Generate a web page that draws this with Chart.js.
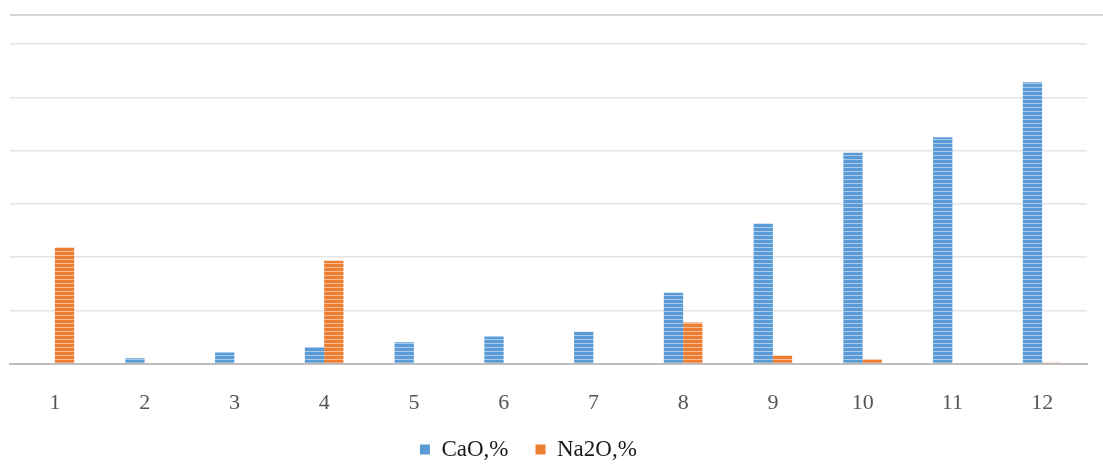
<!DOCTYPE html>
<html>
<head>
<meta charset="utf-8">
<script src="https://cdn.jsdelivr.net/npm/chart.js@4/dist/chart.umd.min.js"></script>
<style>
  html, body { margin:0; padding:0; background:#fff; }
  #wrap { position:relative; width:1103px; height:475px; }
  #topline { position:absolute; left:10px; right:0; top:14px; border-top:2px solid #d4d4d4; }
</style>
</head>
<body>
<div id="wrap">
  <div id="topline"></div>
  <canvas id="chart" width="1103" height="475"></canvas>
</div>
<script>
// === Data ===
const categories = ['1','2','3','4','5','6','7','8','9','10','11','12'];
const cao  = [0, 0.10, 0.21, 0.31, 0.40, 0.51, 0.60, 1.33, 2.63, 3.96, 4.25, 5.28];
const na2o = [2.18, 0, 0, 1.93, 0, 0, 0, 0.77, 0.15, 0.08, 0, 0.02];
const solidColors = ['#5B9BD5', '#ED7D31'];

// === Pola garis horizontal untuk batang ===
function stripes(base, light){
  const c = document.createElement('canvas');
  c.width = 4; c.height = 4;
  const g = c.getContext('2d');
  g.fillStyle = base; g.fillRect(0, 0, 4, 4);
  g.fillStyle = light; g.fillRect(0, 3, 4, 1);
  return g.createPattern(c, 'repeat');
}

const ctx = document.getElementById('chart').getContext('2d');
new Chart(ctx, {
  type: 'bar',
  data: {
    labels: categories,
    datasets: [
      { label: 'CaO,%',  data: cao,  backgroundColor: stripes(solidColors[0], '#a9cbeb') },
      { label: 'Na2O,%', data: na2o, backgroundColor: stripes(solidColors[1], '#f6bd96') }
    ]
  },
  options: {
    responsive: false, animation: false, devicePixelRatio: 1,
    layout: { padding: { left: 10, right: 16, top: 44, bottom: 4 } },
    datasets: { bar: { barPercentage: 1, categoryPercentage: 0.43 } },
    plugins: {
      tooltip: { enabled: false },
      legend: {
        position: 'bottom',
        labels: {
          boxWidth: 10, boxHeight: 10, padding: 4,
          color: '#1a1a1a',
          font: { family: '"Liberation Serif", "DejaVu Serif", serif', size: 23 },
          // kotak legenda polos + jarak antar item lebih lebar
          generateLabels: (chart) => {
            const items = Chart.defaults.plugins.legend.labels.generateLabels(chart);
            items.forEach((it, i) => {
              it.fillStyle = solidColors[i];
              it.strokeStyle = solidColors[i];
              it.lineWidth = 0;
              it.text += (i < items.length - 1) ? '    ' : '       ';
            });
            return items;
          }
        }
      }
    },
    scales: {
      x: {
        grid: { display: false },
        border: { color: '#bdbdbd', width: 2 },
        ticks: {
          padding: 18, color: '#555',
          font: { family: '"Liberation Serif", "DejaVu Serif", serif', size: 22 }
        }
      },
      y: {
        min: 0, max: 6,
        ticks: { display: false, stepSize: 1 },
        grid: { color: '#e4e4e4', lineWidth: 1.5, drawTicks: false },
        border: { display: false }
      }
    }
  }
});
</script>
</body>
</html>
